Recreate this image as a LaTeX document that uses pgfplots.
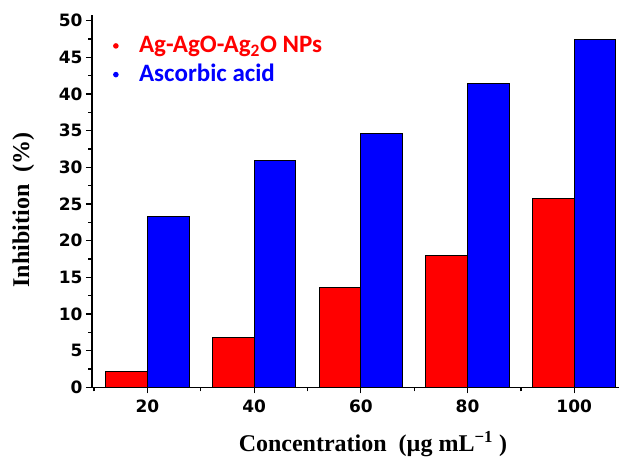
\documentclass[border=0pt]{standalone}
\usepackage{fontspec}
\setmainfont{Liberation Serif}
\newfontfamily\tickfont{DejaVu Sans}
\newfontfamily\legfont{Carlito}
\usepackage{pgfplots}
\pgfplotsset{compat=1.18}
\begin{document}
\begin{tikzpicture}
\useasboundingbox (0,0) rectangle (619pt,459pt);
\begin{axis}[
  at={(92pt,71.7pt)}, anchor=south west,
  scale only axis, width=527pt, height=372.5pt,
  xmin=9.6, xmax=108.4, ymin=0, ymax=50.8,
  axis x line*=bottom, axis y line*=left,
  xtick={20,40,60,80,100}, minor xtick={10,30,50,70,90},
  ytick={0,5,...,50}, minor ytick={2.5,7.5,...,47.5},
  tick align=outside,
  major tick length=6pt, minor tick length=4pt,
  every tick/.style={black, line width=1.3pt},
  axis line style={line width=1.6pt},
  tick label style={font=\tickfont\bfseries\fontsize{17}{17}\selectfont},
  xticklabel style={yshift=-3pt},
  /pgf/number format/assume math mode=true,
  xlabel={Concentration\ \ (µg mL\textsuperscript{−1}\ )},
  xlabel style={at={(rel axis cs:0.533,0)}, anchor=base, yshift=-64pt, font=\bfseries\fontsize{24}{24}\selectfont},
  ylabel={Inhibition\ \ (\%)},
  ylabel style={at={(rel axis cs:-0.1195,0.476)}, anchor=base, font=\bfseries\fontsize{24}{24}\selectfont},
  legend style={at={(rel axis cs:0.04,0.946)}, anchor=north west, draw=none, fill=none, inner sep=0pt, outer sep=0pt, row sep=4.7pt, font=\legfont\bfseries\fontsize{25}{25}\selectfont, nodes={inner sep=0pt, text height=18pt, text depth=6pt}},
  legend cell align=left,
  bulletleg/.style={legend image code/.code={\path[##1, draw=none] (2.8pt,1pt) circle (2.8pt); \path[draw=none, fill=none] (0pt,0pt) -- (26pt,0pt);}},
]
\addplot[ybar, bar width=7.8, bar shift=-3.9, fill=red, draw=black, line width=1.1pt, bulletleg]
  coordinates {(20,2.2) (40,6.75) (60,13.6) (80,18.0) (100,25.8)};
\addlegendentry{\textcolor{red}{Ag-AgO-Ag\textsubscript{2}O NPs}}
\addplot[ybar, bar width=7.8, bar shift=3.9, fill=blue, draw=black, line width=1.1pt, bulletleg]
  coordinates {(20,23.3) (40,30.9) (60,34.6) (80,41.4) (100,47.4)};
\addlegendentry{\textcolor{blue}{Ascorbic acid}}
\end{axis}
\end{tikzpicture}
\end{document}
